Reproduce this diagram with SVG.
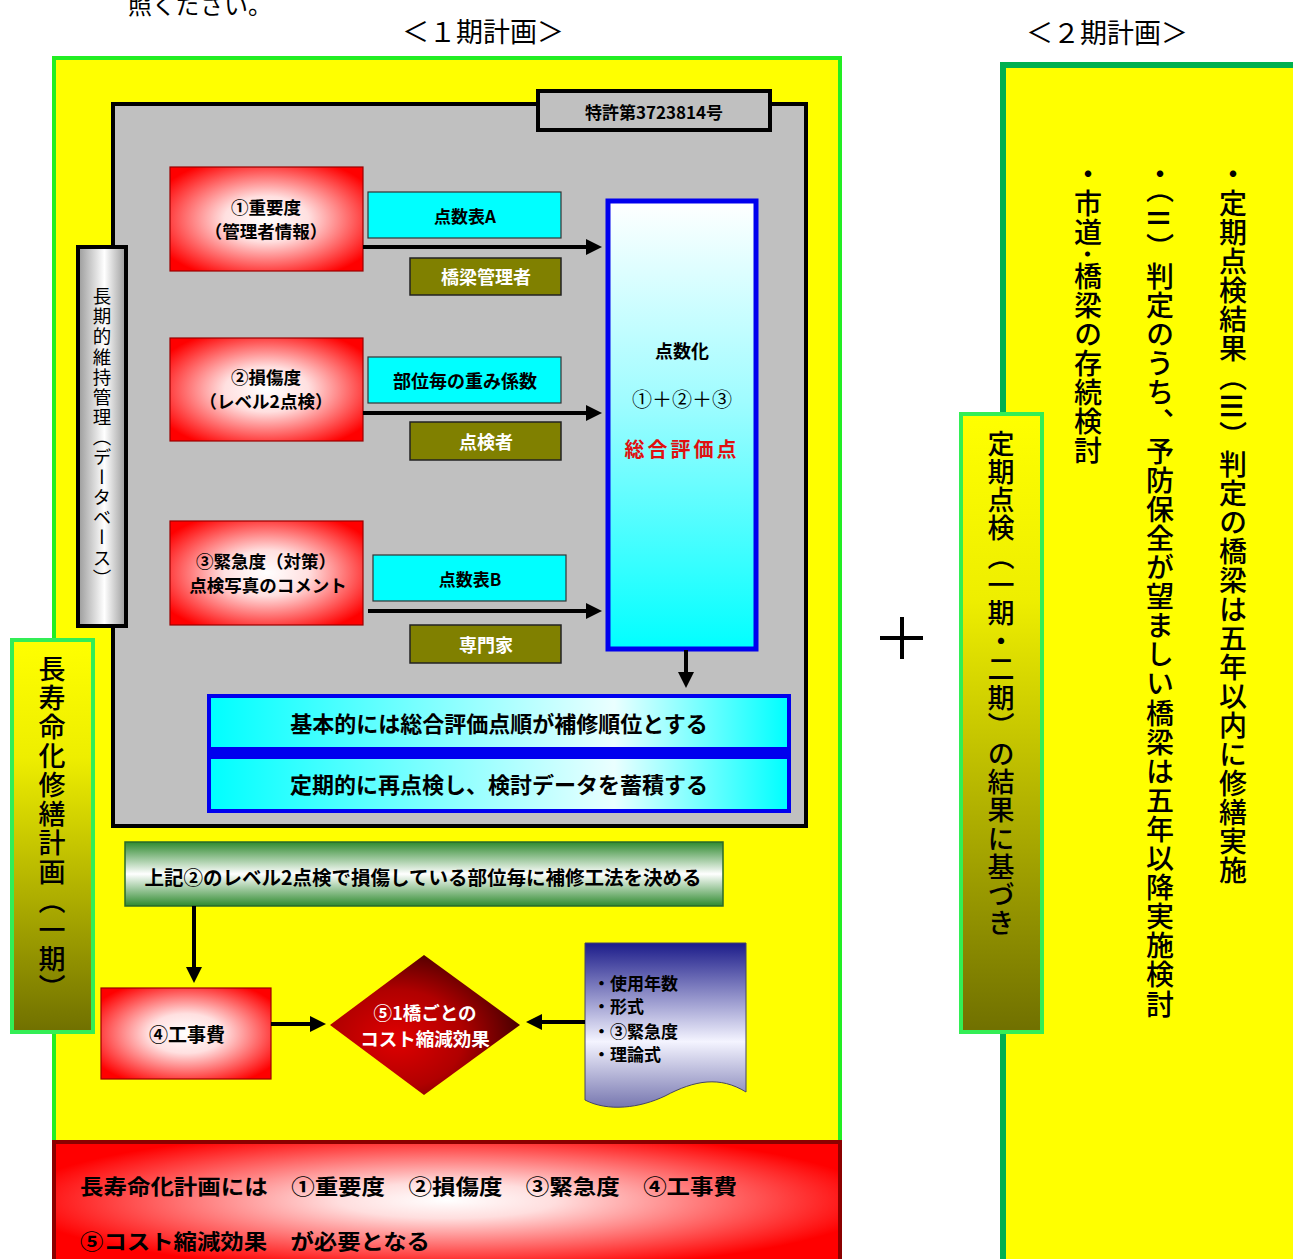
<svg xmlns="http://www.w3.org/2000/svg" width="1293" height="1259" viewBox="0 0 1293 1259">
<defs>
<style>
text{font-family:"Noto Sans CJK JP","Liberation Sans",sans-serif;fill:#000;}
.c{text-anchor:middle;dominant-baseline:central;}
.b{font-weight:700;}
.w{fill:#fff;}
.v{writing-mode:vertical-rl;}
.sw{text-orientation:sideways;}
.red{stroke:#900;stroke-width:1.2;}
.cy{fill:#00ffff;stroke:#333;stroke-width:1.2;}
.ol{fill:#808000;stroke:#222;stroke-width:1.5;}
.ln{stroke:#000;stroke-width:4;fill:none;marker-end:url(#ah);}
</style>
<marker id="ah" viewBox="0 0 10 10" refX="0" refY="5" markerWidth="20" markerHeight="16" markerUnits="userSpaceOnUse" orient="auto"><path d="M0,0 L10,5 L0,10 z" fill="#000"/></marker>
<radialGradient id="gRed" cx="0.5" cy="0.5" r="0.62"><stop offset="0" stop-color="#fff"/><stop offset="0.35" stop-color="#ffe0e0"/><stop offset="1" stop-color="#ff0000"/></radialGradient>
<radialGradient id="gBar" cx="0.5" cy="0.45" r="0.55"><stop offset="0" stop-color="#fff"/><stop offset="0.25" stop-color="#ffdede"/><stop offset="1" stop-color="#ff0000"/></radialGradient>
<linearGradient id="gBig" x1="0" y1="0" x2="0" y2="1"><stop offset="0" stop-color="#fff"/><stop offset="0.45" stop-color="#9ffcff"/><stop offset="1" stop-color="#00ffff"/></linearGradient>
<linearGradient id="gBlu" x1="0" y1="0" x2="1" y2="0"><stop offset="0" stop-color="#00ffff"/><stop offset="0.7" stop-color="#eaffff"/><stop offset="1" stop-color="#00ffff"/></linearGradient>
<linearGradient id="gGrn" x1="0" y1="0" x2="0" y2="1"><stop offset="0" stop-color="#2f8a2f"/><stop offset="0.5" stop-color="#fff"/><stop offset="1" stop-color="#2f8a2f"/></linearGradient>
<linearGradient id="gGray" x1="0" y1="0" x2="1" y2="0"><stop offset="0" stop-color="#9a9a9a"/><stop offset="0.55" stop-color="#fff"/><stop offset="1" stop-color="#9a9a9a"/></linearGradient>
<linearGradient id="gOlv" x1="0" y1="0" x2="0" y2="1"><stop offset="0" stop-color="#ffff00"/><stop offset="0.3" stop-color="#eeee00"/><stop offset="1" stop-color="#707000"/></linearGradient>
<radialGradient id="gDia" cx="0.35" cy="0.6" r="0.7"><stop offset="0" stop-color="#e00000"/><stop offset="0.5" stop-color="#b00000"/><stop offset="1" stop-color="#3a0000"/></radialGradient>
<linearGradient id="gDoc" x1="0" y1="0" x2="0" y2="1"><stop offset="0" stop-color="#1c1c8a"/><stop offset="0.6" stop-color="#f4f4ff"/><stop offset="1" stop-color="#7777b0"/></linearGradient>
</defs>
<rect width="1293" height="1259" fill="#fff"/>

<text x="200" y="3" class="c" font-size="24" fill="#222">照ください。</text>
<text x="483" y="30" class="c" font-size="27">＜１期計画＞</text>
<text x="1107" y="31" class="c" font-size="27">＜２期計画＞</text>

<g id="phase1">
<rect x="54" y="58" width="786" height="1090" fill="#ffff00" stroke="#22ee22" stroke-width="4"/>
</g>
<g id="phase2">
<rect x="1003" y="65" width="300" height="1200" fill="#ffff00" stroke="#00b050" stroke-width="6"/>
<text x="1233" y="160" class="v" font-size="28" font-weight="500" letter-spacing="1">・定期点検結果（<tspan class="sw">Ⅲ</tspan>）判定の橋梁は五年以内に修繕実施</text>
<text x="1160" y="160" class="v" font-size="28" font-weight="500" letter-spacing="1.1">・（<tspan class="sw">Ⅱ</tspan>）判定のうち、予防保全が望ましい橋梁は五年以降実施検討</text>
<text x="1088" y="160" class="v" font-size="28" font-weight="500" letter-spacing="1">・市道･橋梁の存続検討</text>
</g>

<g id="plus"><path d="M880,638 H923 M902,617 V659" stroke="#000" stroke-width="4"/></g>

<g id="database">
<rect x="113" y="104" width="693" height="722" fill="#c0c0c0" stroke="#000" stroke-width="4"/>
</g>
<g id="patent">
<rect x="538" y="91" width="232" height="39" fill="#c0c0c0" stroke="#000" stroke-width="4"/>
<text x="654" y="111" class="c b" font-size="17">特許第3723814号</text>
</g>
<g id="longterm">
<rect x="78" y="247" width="48" height="379" fill="url(#gGray)" stroke="#000" stroke-width="4"/>
<text x="102" y="287" class="v" font-size="18.5" letter-spacing="1.6">長期的維持管理（データベース）</text>
</g>

<g id="n1">
<rect x="170" y="167" width="193" height="104" fill="url(#gRed)" class="red"/>
<text x="266" y="206" class="c b" font-size="17.5">①重要度</text>
<text x="266" y="230" class="c b" font-size="17.5">（管理者情報）</text>
</g>
<g id="n2">
<rect x="170" y="338" width="193" height="103" fill="url(#gRed)" class="red"/>
<text x="266" y="376" class="c b" font-size="17.5">②損傷度</text>
<text x="266" y="400" class="c b" font-size="17.5">（レベル2点検）</text>
</g>
<g id="n3">
<rect x="170" y="521" width="193" height="104" fill="url(#gRed)" class="red"/>
<text x="266" y="560" class="c b" font-size="17.5">③緊急度（対策）</text>
<text x="268" y="584" class="c b" font-size="17.5">点検写真のコメント</text>
</g>

<g id="tA"><rect x="368" y="192" width="193" height="46" class="cy"/><text x="465" y="215" class="c b" font-size="17">点数表A</text></g>
<g id="tW"><rect x="368" y="357" width="193" height="46" class="cy"/><text x="465" y="380" class="c b" font-size="18">部位毎の重み係数</text></g>
<g id="tB"><rect x="373" y="555" width="193" height="46" class="cy"/><text x="470" y="578" class="c b" font-size="17">点数表B</text></g>

<g id="o1"><rect x="410" y="258" width="151" height="37" class="ol"/><text x="486" y="276" class="c b w" font-size="18">橋梁管理者</text></g>
<g id="o2"><rect x="410" y="422" width="151" height="38" class="ol"/><text x="486" y="441" class="c b w" font-size="18">点検者</text></g>
<g id="o3"><rect x="410" y="625" width="151" height="38" class="ol"/><text x="486" y="644" class="c b w" font-size="18">専門家</text></g>

<g id="score">
<rect x="608" y="201" width="148" height="448" fill="url(#gBig)" stroke="#0000ee" stroke-width="5"/>
<text x="682" y="350" class="c b" font-size="18" fill="#222">点数化</text>
<text x="682" y="398" class="c" font-size="20" fill="#222">①＋②＋③</text>
<text x="682" y="448" class="c b" font-size="20" letter-spacing="3" style="fill:#e01010">総合評価点</text>
</g>

<g id="result">
<rect x="207" y="694" width="584" height="119" fill="#0000ee"/>
<rect x="211" y="698" width="576" height="49" fill="url(#gBlu)"/>
<rect x="211" y="759" width="576" height="50" fill="url(#gBlu)"/>
<text x="499" y="722" class="c b" font-size="22">基本的には総合評価点順が補修順位とする</text>
<text x="499" y="783" class="c b" font-size="22">定期的に再点検し、検討データを蓄積する</text>
</g>

<g id="method">
<rect x="125" y="842" width="598" height="64" fill="url(#gGrn)" stroke="#2a6a2a" stroke-width="1.5"/>
<text x="423" y="876" class="c b" font-size="19.5">上記②のレベル2点検で損傷している部位毎に補修工法を決める</text>
</g>

<g id="n4">
<rect x="101" y="988" width="170" height="91" fill="url(#gRed)" class="red"/>
<text x="187" y="1033" class="c b" font-size="19">④工事費</text>
</g>

<g id="n5">
<path d="M424,955 L520,1025 L424,1095 L330,1025 Z" fill="url(#gDia)"/>
<text x="425" y="1012" class="c b w" font-size="18.5">⑤1橋ごとの</text>
<text x="425" y="1038" class="c b w" font-size="18.5">コスト縮減効果</text>
</g>

<g id="doc">
<path d="M585,943 H746 V1092 C720,1076 695,1080 665,1096 C640,1108 608,1112 585,1100 Z" fill="url(#gDoc)" stroke="#446" stroke-width="1"/>
<text x="593" y="982" dominant-baseline="central" class="b" font-size="17">・使用年数</text>
<text x="593" y="1005" dominant-baseline="central" class="b" font-size="17">・形式</text>
<text x="593" y="1030" dominant-baseline="central" class="b" font-size="17">・③緊急度</text>
<text x="593" y="1053" dominant-baseline="central" class="b" font-size="17">・理論式</text>
</g>

<g id="plan1">
<rect x="12" y="640" width="81" height="392" fill="url(#gOlv)" stroke="#33ee55" stroke-width="4"/>
<text x="52" y="655" class="v" font-size="27" font-weight="500" letter-spacing="2">長寿命化修繕計画（一期）</text>
</g>

<g id="inspect">
<rect x="961" y="414" width="81" height="618" fill="url(#gOlv)" stroke="#33ee55" stroke-width="4"/>
<text x="1001" y="430" class="v" font-size="27" font-weight="500" letter-spacing="1.2">定期点検（一期・二期）の結果に基づき</text>
</g>

<g id="summary">
<rect x="54" y="1142" width="786" height="130" fill="url(#gBar)" stroke="#8b0000" stroke-width="4"/>
<text x="80" y="1185" dominant-baseline="central" class="b" font-size="21" textLength="657" lengthAdjust="spacingAndGlyphs">長寿命化計画には　①重要度　②損傷度　③緊急度　④工事費</text>
<text x="80" y="1240" dominant-baseline="central" class="b" font-size="21" textLength="350" lengthAdjust="spacingAndGlyphs">⑤コスト縮減効果　が必要となる</text>
</g>

<g id="connectors">
<path class="ln" d="M363,247 H586"/>
<path class="ln" d="M363,413 H586"/>
<path class="ln" d="M368,611 H586"/>
<path class="ln" d="M686,650 V672"/>
<path class="ln" d="M194,906 V967"/>
<path class="ln" d="M271,1024 H310"/>
<path class="ln" d="M585,1022 H542"/>
</g>
</svg>
